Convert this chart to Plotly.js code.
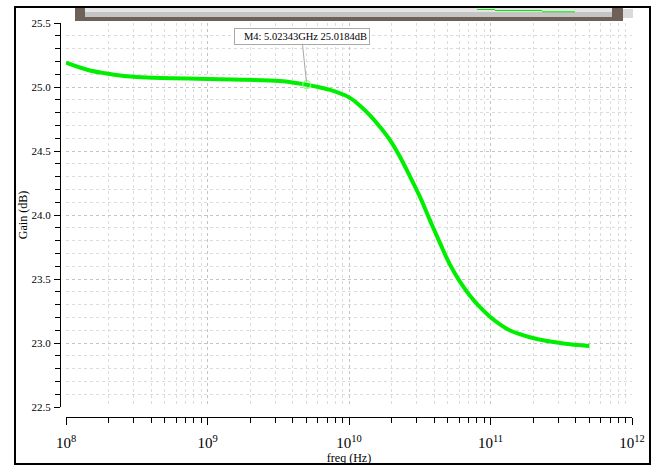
<!DOCTYPE html>
<html>
<head>
<meta charset="utf-8">
<script src="https://cdn.plot.ly/plotly-3.0.1.min.js"></script>
<style>
html,body{margin:0;padding:0;background:#fff;}
#chart{width:653px;height:465px;}
</style>
</head>
<body>
<div id="chart"></div>
<script>
// Data
const freqHz = [1.0e8, 1.43e8, 1.89e8, 2.49e8, 3.44e8, 5.61e8, 1.0e9, 1.51e9, 3.24e9, 5.02343e9,
  7.35e9, 1.016e10, 1.197e10, 1.407e10, 1.655e10, 1.95e10, 2.29e10, 2.70e10, 3.18e10, 3.73e10,
  4.40e10, 5.18e10, 6.08e10, 7.16e10, 8.43e10, 9.92e10, 1.167e11, 1.374e11, 1.90e11, 2.51e11,
  3.65e11, 5.0e11];
const gainDb = [25.19, 25.133, 25.107, 25.088, 25.076, 25.068, 25.063, 25.058, 25.047, 25.018,
  24.977, 24.915, 24.853, 24.778, 24.688, 24.585, 24.455, 24.30, 24.14, 23.96,
  23.78, 23.61, 23.48, 23.37, 23.28, 23.205, 23.145, 23.098, 23.045, 23.015,
  22.99, 22.977];
const markerFreq = [5.02343e9];
const markerGain = [25.0184];
const markerLabel = 'M4: 5.02343GHz 25.0184dB';
const xTitle = 'freq (Hz)';
const yTitle = 'Gain (dB)';

const W = 653, H = 465;
const M = {l: 60, r: 21, t: 23, b: 48};
const PW = W - M.l - M.r, PH = H - M.t - M.b;
const px = x => (x - M.l) / PW;
const py = y => (H - M.b - y) / PH;

const fontFam = '"Liberation Serif", "DejaVu Serif", serif';
const green = '#00ee00';
const gridMaj = '#c4c4c4';
const gridMin = '#dcdcdc';

const traces = [
  {
    x: freqHz, y: gainDb, type: 'scatter', mode: 'lines',
    line: {color: green, width: 4, shape: 'spline', smoothing: 1},
    hoverinfo: 'skip', showlegend: false
  },
  {
    x: markerFreq, y: markerGain, type: 'scatter', mode: 'markers',
    marker: {symbol: 'circle-open', size: 8, color: '#8cff8c', line: {width: 1.2, color: '#8cff8c'}},
    showlegend: false, hoverinfo: 'skip'
  }
];

const layout = {
  width: W, height: H,
  margin: M,
  paper_bgcolor: '#fff', plot_bgcolor: '#fff',
  font: {family: fontFam, size: 11, color: '#000'},
  showlegend: false,
  xaxis: {
    type: 'log', range: [8, 12], domain: [px(66), 1],
    anchor: 'free', position: 0,
    dtick: 1, exponentformat: 'power', showexponent: 'all',
    ticks: 'outside', ticklen: 7, tickcolor: '#000', tickwidth: 1,
    ticklabelstandoff: 6,
    showline: true, linecolor: '#000', linewidth: 1,
    showgrid: true, gridcolor: gridMaj, griddash: 'dot', gridwidth: 1,
    zeroline: false,
    tickfont: {family: fontFam, size: 12},
    minor: {dtick: 'D1', ticks: 'outside', ticklen: 5, tickcolor: '#000',
      showgrid: true, gridcolor: gridMin, griddash: 'dot', gridwidth: 1},
    title: {text: xTitle, font: {family: fontFam, size: 12}, standoff: 0}
  },
  yaxis: {
    range: [22.5, 25.5], domain: [py(407), 1],
    anchor: 'free', position: 0,
    dtick: 0.5, tickformat: '.1f',
    ticks: 'outside', ticklen: 6, tickcolor: '#000', tickwidth: 1,
    ticklabelstandoff: 1,
    showline: true, linecolor: '#000', linewidth: 1,
    showgrid: true, gridcolor: gridMaj, griddash: 'dot', gridwidth: 1,
    zeroline: false,
    tickfont: {family: fontFam, size: 11},
    minor: {dtick: 0.1, ticks: 'outside', ticklen: 5, tickcolor: '#000',
      showgrid: true, gridcolor: gridMin, griddash: 'dot', gridwidth: 1},
    title: {text: yTitle, font: {family: fontFam, size: 12}, standoff: 0}
  },
  annotations: [
    {
      x: Math.log10(markerFreq[0]), y: markerGain[0], xref: 'x', yref: 'y',
      text: markerLabel, showarrow: true, arrowhead: 0, arrowwidth: 1, arrowcolor: '#a8a8a8',
      ax: -5, ay: -48, bgcolor: '#fff', bordercolor: '#a8a8a8', borderwidth: 1, borderpad: 2,
      width: 130, align: 'right',
      font: {family: fontFam, size: 10.5, color: '#000'}, standoff: 3
    }
  ],
  shapes: [
    // outer black frame
    {type: 'rect', xref: 'paper', yref: 'paper', x0: px(15), x1: px(650), y0: py(464), y1: py(7),
      line: {color: '#000', width: 2}, fillcolor: 'rgba(0,0,0,0)', layer: 'above'},
    // cropped legend bar at top
    {type: 'rect', xref: 'paper', yref: 'paper', x0: px(75), x1: px(623), y0: py(21), y1: py(8),
      line: {width: 0}, fillcolor: '#6e6258', layer: 'above'},
    {type: 'rect', xref: 'paper', yref: 'paper', x0: px(85), x1: px(612), y0: py(17), y1: py(8),
      line: {width: 0}, fillcolor: '#c4c4c4', layer: 'above'},
    {type: 'rect', xref: 'paper', yref: 'paper', x0: px(85), x1: px(612), y0: py(12), y1: py(8),
      line: {width: 0}, fillcolor: '#e4e4e4', layer: 'above'},
    {type: 'rect', xref: 'paper', yref: 'paper', x0: px(623), x1: px(633), y0: py(18), y1: py(9),
      line: {width: 0}, fillcolor: '#dadada', layer: 'above'},
    {type: 'line', xref: 'paper', yref: 'paper', x0: px(477), x1: px(495), y0: py(9.5), y1: py(9.5),
      line: {color: green, width: 1}, layer: 'above'},
    {type: 'line', xref: 'paper', yref: 'paper', x0: px(495), x1: px(542), y0: py(10.5), y1: py(10.5),
      line: {color: green, width: 1}, layer: 'above'},
    {type: 'line', xref: 'paper', yref: 'paper', x0: px(542), x1: px(575), y0: py(11.8), y1: py(11.8),
      line: {color: green, width: 1}, layer: 'above'}
  ]
};

Plotly.newPlot('chart', traces, layout, {staticPlot: true, displayModeBar: false});
</script>
</body>
</html>
